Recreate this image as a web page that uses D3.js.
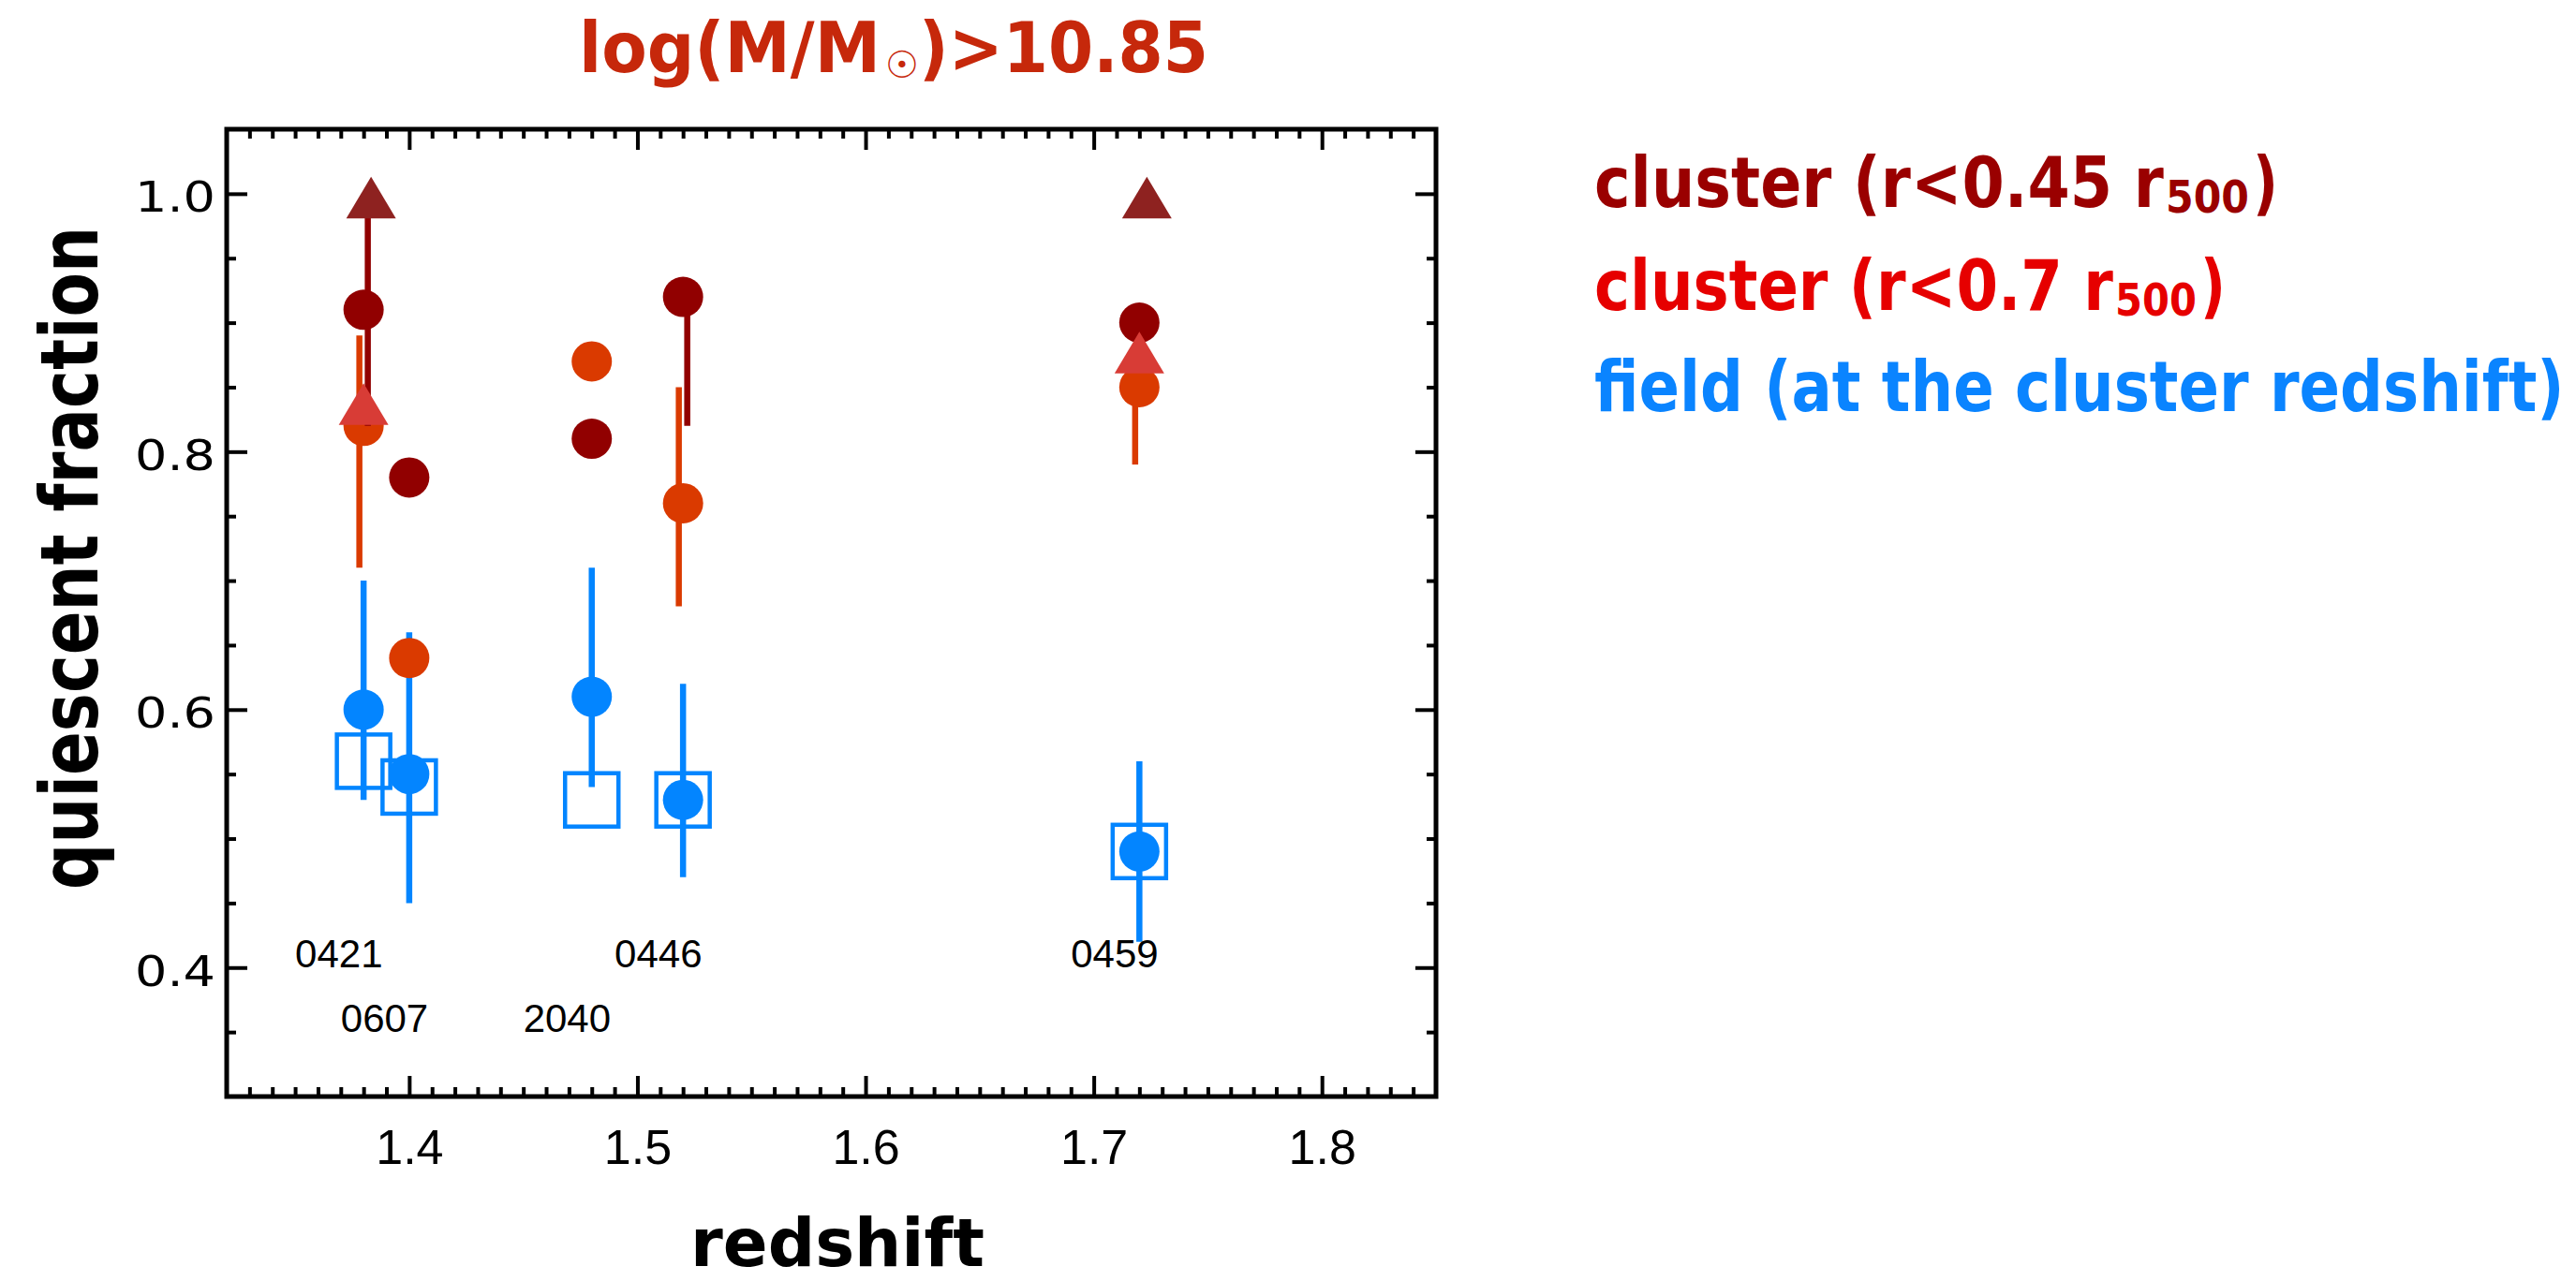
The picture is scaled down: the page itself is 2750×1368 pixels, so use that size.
<!DOCTYPE html>
<html>
<head>
<meta charset="utf-8">
<script src="https://cdn.jsdelivr.net/npm/d3@7"></script>
<style>
  body { margin: 0; background: #fff; }
  svg { display: block; }
</style>
</head>
<body>
<svg id="chart" width="2750" height="1368"></svg>
<script>
// ---- data -------------------------------------------------------------
// cluster redshifts and names
const redshift    = [1.38, 1.40, 1.48, 1.52, 1.72];
const clusterIds  = ["0421", "0607", "2040", "0446", "0459"];
const idLevel     = [0.40, 0.35, 0.35, 0.40, 0.40];

// cluster core, r < 0.45 r500
const coreFrac  = [0.91, 0.78, 0.81, 0.92, 0.90];
const coreLo    = [0.82, null, null, 0.82, null];
const coreHi    = [1.00, null, null, 0.92, null];

// cluster, r < 0.7 r500
const outerFrac = [0.82, 0.64, 0.87, 0.76, 0.85];
const outerLo   = [0.71, null, null, 0.68, 0.79];
const outerHi   = [0.89, null, null, 0.85, 0.85];

// field at the cluster redshift
const fieldFrac = [0.60, 0.55, 0.61, 0.53, 0.49];
const fieldLo   = [0.53, 0.45, 0.54, 0.47, 0.42];
const fieldHi   = [0.70, 0.66, 0.71, 0.62, 0.56];
const fieldBox  = [0.56, 0.54, 0.53, 0.53, 0.49];

// triangle markers
const triZ        = [1.38, 1.72];
const triCore     = [1.00, 1.00];
const triOuter    = [0.84, 0.88];

// axes
const xMajor      = [1.4, 1.5, 1.6, 1.7, 1.8];
const xTickLabels = ["1.4", "1.5", "1.6", "1.7", "1.8"];
const yMajor      = [0.4, 0.6, 0.8, 1.0];
const yTickLabels = ["0.4", "0.6", "0.8", "1.0"];

// legend
const legendMain  = ["cluster (r<0.45 r", "cluster (r<0.7 r", "field (at the cluster redshift)"];
const legendSub   = ["500", "500", ""];

// ---- layout & style ---------------------------------------------------
const L = 242, R = 1533, T = 138, B = 1171;
const C = {
  core: "#910000", coreTri: "#8e2220", outer: "#da3a00", outerTri: "#d83c36",
  field: "#0385ff", title: "#c6280b",
  legend: ["#9a0000", "#e60000", "#0a84ff"]
};
const boldFont = '"DejaVu Sans", sans-serif';

const svg = d3.select("#chart");
svg.append("rect").attr("width", 2750).attr("height", 1368).attr("fill", "#fff");

const x = d3.scaleLinear().domain([1.32, 1.85]).range([L, R]);
const y = d3.scaleLinear().domain([0.30, 1.05]).range([B, T]);

// ---- axes (inward ticks on all four sides) ----------------------------
const xMinor = d3.range(133, 185).map(v => v / 100).filter(v => !xMajor.some(m => Math.abs(m - v) < 1e-6));
const yMinor = d3.range(7, 21).map(v => v / 20).filter(v => !yMajor.some(m => Math.abs(m - v) < 1e-6));
const MAJ = 22, MIN = 10;

function tickGroup(axis, tx, ty) {
  const g = svg.append("g").attr("transform", `translate(${tx},${ty})`).call(axis);
  g.select(".domain").remove();
  g.selectAll(".tick line").attr("stroke", "#000").attr("stroke-width", 4);
  return g;
}
// minor ticks
tickGroup(d3.axisBottom(x).tickValues(xMinor).tickSize(-MIN).tickFormat(""), 0, B);
tickGroup(d3.axisTop(x).tickValues(xMinor).tickSize(-MIN).tickFormat(""), 0, T);
tickGroup(d3.axisLeft(y).tickValues(yMinor).tickSize(-MIN).tickFormat(""), L, 0);
tickGroup(d3.axisRight(y).tickValues(yMinor).tickSize(-MIN).tickFormat(""), R, 0);
// major ticks
tickGroup(d3.axisTop(x).tickValues(xMajor).tickSize(-MAJ).tickFormat(""), 0, T);
tickGroup(d3.axisRight(y).tickValues(yMajor).tickSize(-MAJ).tickFormat(""), R, 0);

const gxb = tickGroup(d3.axisBottom(x).tickValues(xMajor).tickSize(-MAJ)
  .tickFormat((d, i) => xTickLabels[i]), 0, B);
gxb.selectAll(".tick text")
  .attr("y", 72).attr("dy", 0)
  .attr("font-family", '"Liberation Sans", Arial, sans-serif')
  .attr("font-size", 52).attr("fill", "#000");

const gyl = tickGroup(d3.axisLeft(y).tickValues(yMajor).tickSize(-MAJ)
  .tickFormat((d, i) => yTickLabels[i]), L, 0);
gyl.selectAll(".tick text")
  .attr("x", -12).attr("dy", 19)
  .attr("font-family", '"DejaVu Sans", sans-serif')
  .attr("font-size", 45).attr("fill", "#000")
  .attr("text-anchor", "end")
  .attr("textLength", 86).attr("lengthAdjust", "spacingAndGlyphs");

// frame
svg.append("rect")
  .attr("x", L).attr("y", T).attr("width", R - L).attr("height", B - T)
  .attr("fill", "none").attr("stroke", "#000").attr("stroke-width", 5);

// ---- marks ------------------------------------------------------------
const plot = svg.append("g");
const idx = d3.range(redshift.length);
const RAD = 21.5, SQ = 57, LW = 6.5;

function errorBars(lo, hi, color, dx) {
  plot.append("g").selectAll("line")
    .data(idx.filter(i => lo[i] != null))
    .join("line")
    .attr("x1", i => x(redshift[i]) + dx).attr("x2", i => x(redshift[i]) + dx)
    .attr("y1", i => y(hi[i])).attr("y2", i => y(lo[i]))
    .attr("stroke", color).attr("stroke-width", LW);
}
function dots(vals, color) {
  plot.append("g").selectAll("circle")
    .data(idx)
    .join("circle")
    .attr("cx", i => x(redshift[i])).attr("cy", i => y(vals[i]))
    .attr("r", RAD).attr("fill", color);
}
function triangles(vals, color, dx) {
  const w = 53, up = 18, down = 26.5;
  plot.append("g").selectAll("path")
    .data(d3.range(triZ.length))
    .join("path")
    .attr("d", i => {
      const cx = x(triZ[i]) + dx, cy = y(vals[i]);
      return `M${cx},${cy - up}L${cx + w / 2},${cy + down}L${cx - w / 2},${cy + down}Z`;
    })
    .attr("fill", color);
}

// field
errorBars(fieldLo, fieldHi, C.field, 0);
plot.append("g").selectAll("rect")
  .data(idx)
  .join("rect")
  .attr("x", i => x(redshift[i]) - SQ / 2).attr("y", i => y(fieldBox[i]) - SQ / 2)
  .attr("width", SQ).attr("height", SQ)
  .attr("fill", "none").attr("stroke", C.field).attr("stroke-width", 4.5);
dots(fieldFrac, C.field);

// cluster r < 0.7 r500
errorBars(outerLo, outerHi, C.outer, -4.5);
dots(outerFrac, C.outer);

// cluster core r < 0.45 r500
errorBars(coreLo, coreHi, C.core, 4.5);
dots(coreFrac, C.core);

triangles(triOuter, C.outerTri, 0);
triangles(triCore, C.coreTri, 8);

// cluster names
plot.append("g").selectAll("text")
  .data(idx)
  .join("text")
  .attr("x", i => x(redshift[i] - 0.03))
  .attr("y", i => y(idLevel[i]))
  .attr("font-family", '"Liberation Sans", Arial, sans-serif')
  .attr("font-size", 42).attr("fill", "#000")
  .text(i => clusterIds[i]);

// ---- titles -----------------------------------------------------------
// bold text squeezed horizontally to a given width (condensed look)
function boldText(str, px, py, size, color, width, extra) {
  const t = svg.append("text")
    .attr("font-family", boldFont).attr("font-weight", "bold")
    .attr("font-size", size).attr("fill", color)
    .text(str);
  if (extra) t.attr("text-anchor", "middle");
  const k = width / t.node().getComputedTextLength();
  t.attr("transform", `translate(${px},${py})${extra || ""} scale(${k},1)`);
  return t;
}

// top title: log(M/M_sun) > 10.85
boldText("log(M/M", 618, 77, 75, C.title, 322);
svg.append("text")
  .attr("x", 963).attr("y", 69)
  .attr("text-anchor", "middle").attr("dominant-baseline", "central")
  .attr("font-family", '"DejaVu Sans", sans-serif')
  .attr("font-size", 40).attr("fill", C.title)
  .text("\u2609");
boldText(")>10.85", 981, 77, 75, C.title, 309);

// x title
boldText("redshift", 737, 1352, 71, "#000", 314);

// y title
boldText("quiescent fraction", 104, 596, 86, "#000", 708, " rotate(-90)");

// ---- legend -----------------------------------------------------------
const LX = 1702, baselines = [221, 331, 439];
const mainLen = [608, 554, 1036];
const subX = [2312, 2258], subLen = [89, 87], closeX = [2405, 2349];
legendMain.forEach((s, i) => {
  boldText(s, LX, baselines[i], 75, C.legend[i], mainLen[i]);
  if (legendSub[i]) {
    boldText(legendSub[i], subX[i], baselines[i] + 6, 48, C.legend[i], subLen[i]);
    boldText(")", closeX[i], baselines[i], 75, C.legend[i], 27);
  }
});
</script>
</body>
</html>
